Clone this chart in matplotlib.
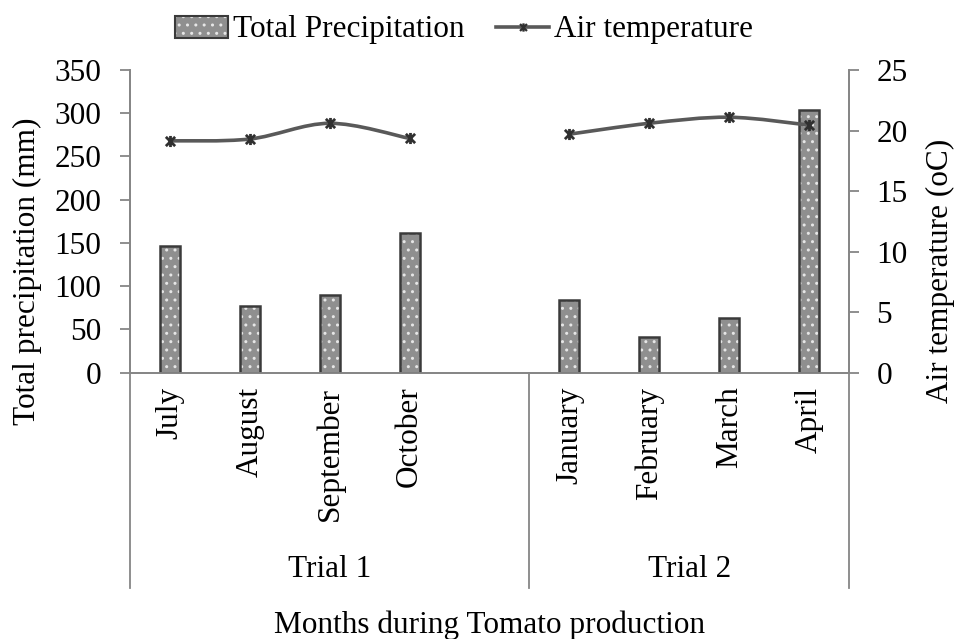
# Import Packages
import numpy as np
import matplotlib
matplotlib.use("Agg")
import matplotlib.pyplot as plt
from matplotlib.path import Path
from matplotlib.patches import PathPatch
from matplotlib.lines import Line2D

plt.rcParams['font.family'] = ['Liberation Serif', 'DejaVu Serif']
plt.rcParams['hatch.linewidth'] = 1.0

# Data
months = ["July", "August", "September", "October", "", "January", "February", "March", "April"]
trials = ["Trial 1", "Trial 2"]
trial_sizes = [5, 4]
precip_trial1 = [147, 77, 90, 162]
precip_trial2 = [84, 41, 63, 304]
temp_trial1 = [19.15, 19.3, 20.6, 19.35]
temp_trial2 = [19.7, 20.6, 21.1, 20.45]

FS = 22.5
AXIS_GREY = "#868686"
LINE_GREY = "#595959"

x1 = np.arange(len(precip_trial1))
x2 = np.arange(len(precip_trial2)) + trial_sizes[0]

# Excel "star" marker: an X with a vertical bar
star = Path([(-1, -1), (1, 1), (-1, 1), (1, -1), (0, -1.2), (0, 1.2)],
            [Path.MOVETO, Path.LINETO, Path.MOVETO, Path.LINETO, Path.MOVETO, Path.LINETO])


def smooth_path(xs, ys):
    # Excel-style smoothed line: cubic bezier segments through the points
    pts = np.column_stack([xs, ys]).astype(float)
    n = len(pts)
    verts = [pts[0]]
    codes = [Path.MOVETO]
    for i in range(n - 1):
        p0 = pts[max(i - 1, 0)]
        p1 = pts[i]
        p2 = pts[i + 1]
        p3 = pts[min(i + 2, n - 1)]
        c1 = p1 + (p2 - p0) / 6.0
        c2 = p2 - (p3 - p1) / 6.0
        verts += [c1, c2, p2]
        codes += [Path.CURVE4] * 3
    return Path(verts, codes)


fig = plt.figure(figsize=(9.57, 6.39), dpi=100)
ax = fig.add_axes([130 / 957, 1 - 372.7 / 639, (849 - 130) / 957, (372.7 - 70) / 639])
ax2 = ax.twinx()

# Bars: patterned fill then dark outline
bar_w = 0.25
for xs, vals in [(x1, precip_trial1), (x2, precip_trial2)]:
    ax.bar(xs, vals, width=bar_w, color="#8f8f8f", edgecolor="#e6e6e6", hatch="..", linewidth=0, zorder=2)
    ax.bar(xs, vals, width=bar_w, fill=False, edgecolor="#3a3a3a", linewidth=1.8, zorder=3)

ax.set_xlim(-0.5, len(months) - 0.5)
ax.set_ylim(0, 350)
ax.set_yticks(np.arange(0, 351, 50))
ax.set_xticks(np.arange(len(months)))
ax.set_xticklabels(months, rotation=90, fontsize=FS)
ax.tick_params(axis='x', length=0, pad=10)
ax.tick_params(axis='y', labelsize=FS, length=7.2, width=1.3, color=AXIS_GREY, direction='out', pad=13.5)

# Temperature line on right axis
for xs, vals in [(x1, temp_trial1), (x2, temp_trial2)]:
    ax2.add_patch(PathPatch(smooth_path(xs, vals), fill=False, edgecolor=LINE_GREY, linewidth=2.6, zorder=3))
    ax2.plot(xs, vals, linestyle="none", marker=star, markersize=8, markeredgewidth=2.0,
             color="#303030", zorder=4)
ax2.set_ylim(0, 25)
ax2.set_yticks(np.arange(0, 26, 5))
ax2.tick_params(axis='y', labelsize=FS, length=7.2, width=1.3, color=AXIS_GREY, direction='out', pad=12.5)

for a in (ax, ax2):
    a.spines['top'].set_visible(False)
    for s in ('left', 'right', 'bottom'):
        a.spines[s].set_color(AXIS_GREY)
        a.spines[s].set_linewidth(1.3)

# Axis titles
fig.text(27 / 957, 1 - 271 / 639, "Total precipitation (mm)", rotation=90,
         ha="center", va="center", fontsize=FS)
fig.text(940 / 957, 1 - 271 / 639, "Air temperature (oC)", rotation=90,
         ha="center", va="center", fontsize=FS)

# Multi-level category axis: group dividers and trial labels
trans = ax.get_xaxis_transform()
edges = np.concatenate([[0], np.cumsum(trial_sizes)]) - 0.5
for e in edges:
    ax.plot([e, e], [0, -0.71], transform=trans, color=AXIS_GREY, linewidth=1.3, clip_on=False)
for name, lo, hi in zip(trials, edges[:-1], edges[1:]):
    ax.text((lo + hi) / 2, -0.65, name, transform=trans, ha="center", va="center", fontsize=FS)

fig.text((130 + 849) / 2 / 957, 1 - 625 / 639, "Months during Tomato production",
         ha="center", va="center", fontsize=FS)

# Legend
bar_fill = plt.Rectangle((0, 0), 1, 1, facecolor="#8f8f8f", edgecolor="#e6e6e6", hatch="..", linewidth=0)
bar_edge = plt.Rectangle((0, 0), 1, 1, fill=False, edgecolor="#3a3a3a", linewidth=1.5)
line_h = Line2D([], [], color=LINE_GREY, linewidth=2.6, marker=star, markersize=6,
                markeredgewidth=1.6, markeredgecolor="#303030")
fig.legend([(bar_fill, bar_edge), line_h], ["Total Precipitation", "Air temperature"],
           loc="center", bbox_to_anchor=(464 / 957, 1 - 30 / 639), ncol=2, frameon=False,
           fontsize=FS, handlelength=1.7, handletextpad=0.15, columnspacing=1.0)

plt.savefig("out.png", dpi=100)
